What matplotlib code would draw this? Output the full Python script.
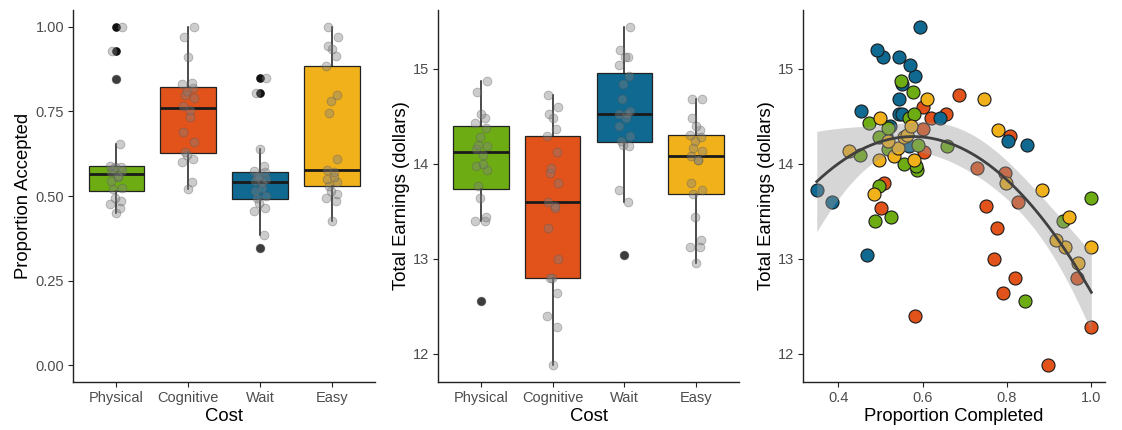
import numpy as np
import matplotlib.pyplot as plt

plt.rcParams['font.family'] = ['Liberation Sans', 'DejaVu Sans']

costs = ['Physical', 'Cognitive', 'Wait', 'Easy']
cost_colors = ['#6DAD13', '#E1531B', '#0F6990', '#F1B11B']

# proportion of offers accepted, one value per participant
accepted_physical = [0.450, 0.465, 0.475, 0.485, 0.495, 0.520, 0.525, 0.545, 0.555, 0.560,
                     0.570, 0.575, 0.580, 0.585, 0.587, 0.590, 0.655, 0.845, 0.930, 1.000]
accepted_cognitive = [0.520, 0.540, 0.600, 0.610, 0.620, 0.630, 0.660, 0.690, 0.735, 0.755,
                      0.765, 0.790, 0.800, 0.810, 0.820, 0.830, 0.835, 0.910, 0.970, 1.000]
accepted_wait = [0.345, 0.385, 0.455, 0.465, 0.480, 0.495, 0.500, 0.515, 0.525, 0.540,
                 0.545, 0.550, 0.555, 0.560, 0.570, 0.575, 0.590, 0.640, 0.805, 0.850]
accepted_easy = [0.425, 0.485, 0.495, 0.505, 0.515, 0.530, 0.540, 0.550, 0.555, 0.570, 0.577,
                 0.610, 0.745, 0.780, 0.800, 0.883, 0.915, 0.935, 0.945, 0.970, 1.000]

# total earnings (dollars) and proportion completed, paired per participant
earn_physical = [12.56, 13.40, 13.40, 13.44, 13.64, 13.77, 13.93, 13.98, 14.00, 14.09,
                 14.15, 14.19, 14.20, 14.28, 14.38, 14.43, 14.48, 14.52, 14.76, 14.87]
done_physical = [0.843, 0.488, 0.932, 0.526, 1.000, 0.497, 0.587, 0.584, 0.556, 0.452,
                 0.519, 0.657, 0.590, 0.497, 0.519, 0.473, 0.568, 0.580, 0.578, 0.548]

earn_cognitive = [11.88, 12.28, 12.40, 12.64, 12.80, 12.80, 13.00, 13.32, 13.53, 13.56, 13.60,
                  13.80, 13.90, 13.96, 14.12, 14.29, 14.37, 14.48, 14.52, 14.60, 14.72]
done_cognitive = [0.897, 1.000, 0.581, 0.791, 0.819, 0.967, 0.770, 0.777, 0.501, 0.750, 0.826,
                  0.509, 0.796, 0.729, 0.603, 0.806, 0.601, 0.620, 0.655, 0.600, 0.686]

earn_wait = [13.04, 13.60, 13.72, 14.19, 14.20, 14.24, 14.29, 14.40, 14.48, 14.52,
             14.52, 14.56, 14.68, 14.84, 14.92, 15.04, 15.12, 15.12, 15.20, 15.44]
done_wait = [0.468, 0.385, 0.349, 0.568, 0.848, 0.803, 0.513, 0.523, 0.642, 0.545,
             0.552, 0.454, 0.544, 0.552, 0.582, 0.570, 0.507, 0.544, 0.491, 0.594]

earn_easy = [12.96, 13.12, 13.12, 13.20, 13.44, 13.68, 13.72, 13.80, 14.04, 14.04, 14.08,
             14.13, 14.17, 14.24, 14.28, 14.30, 14.36, 14.40, 14.48, 14.68, 14.68]
done_easy = [0.969, 0.938, 1.000, 0.916, 0.947, 0.485, 0.882, 0.798, 0.496, 0.580, 0.533,
             0.426, 0.541, 0.517, 0.556, 0.562, 0.778, 0.572, 0.499, 0.610, 0.746]

accepted = [accepted_physical, accepted_cognitive, accepted_wait, accepted_easy]
earnings = [earn_physical, earn_cognitive, earn_wait, earn_easy]
completed = [done_physical, done_cognitive, done_wait, done_easy]

TICK_GRAY = '#4D4D4D'
AXIS_COL = '#222222'


def style_axes(ax):
    for side in ('top', 'right'):
        ax.spines[side].set_visible(False)
    for side in ('left', 'bottom'):
        ax.spines[side].set_color(AXIS_COL)
        ax.spines[side].set_linewidth(1.0)
    ax.tick_params(length=3.5, width=0.8, color=AXIS_COL, labelcolor=TICK_GRAY,
                   labelsize=10.5, pad=3)


def jitter(n, width=0.08):
    # fixed spread so the dots do not stack on the box centre
    return width * np.sin(np.arange(n) * 2.39996)


def box_panel(ax, groups, ylabel):
    pos = np.arange(1, len(groups) + 1)
    bp = ax.boxplot(groups, positions=pos, widths=0.77, patch_artist=True,
                    showcaps=False,
                    boxprops=dict(edgecolor='#222222', linewidth=0.9),
                    medianprops=dict(color='#1a1a1a', linewidth=2.0),
                    whiskerprops=dict(color='#1a1a1a', linewidth=1.1),
                    flierprops=dict(marker='o', markerfacecolor='#111111',
                                    markeredgecolor='#111111', markersize=5.2))
    for patch, col in zip(bp['boxes'], cost_colors):
        patch.set_facecolor(col)
    for p, vals in zip(pos, groups):
        ax.scatter(p + jitter(len(vals)), vals, s=40, color='#808080', alpha=0.4,
                   edgecolors='#555555', linewidths=0.6, zorder=4)
    ax.set_xticks(pos)
    ax.set_xticklabels(costs)
    ax.set_xlim(0.4, 4.6)
    ax.set_xlabel('Cost', fontsize=13.3, labelpad=2)
    ax.set_ylabel(ylabel, fontsize=13.3, labelpad=2)
    style_axes(ax)


fig = plt.figure(figsize=(11.22, 4.30), dpi=100)
ax1 = fig.add_axes([0.0651, 0.1116, 0.2692, 0.8651])
ax2 = fig.add_axes([0.3904, 0.1116, 0.2683, 0.8651])
ax3 = fig.add_axes([0.7157, 0.1116, 0.2692, 0.8651])

# proportion accepted by cost
box_panel(ax1, accepted, 'Proportion Accepted')
ax1.set_ylim(-0.05, 1.05)
ax1.set_yticks([0, 0.25, 0.5, 0.75, 1.0])
ax1.set_yticklabels(['0.00', '0.25', '0.50', '0.75', '1.00'])

# total earnings by cost
box_panel(ax2, earnings, 'Total Earnings (dollars)')
all_earn = np.concatenate(earnings)
e_pad = 0.05 * (all_earn.max() - all_earn.min())
ax2.set_ylim(all_earn.min() - e_pad, all_earn.max() + e_pad)
ax2.set_yticks([12, 13, 14, 15])

# earnings against proportion completed, drawn so orange sits underneath
for k in (1, 2, 0, 3):
    ax3.scatter(completed[k], earnings[k], s=88, color=cost_colors[k],
                edgecolors='#1a1a1a', linewidths=0.8, zorder=2)

# quadratic fit with 95% confidence band
x_all = np.concatenate(completed)
y_all = all_earn
X = np.column_stack([np.ones_like(x_all), x_all, x_all ** 2])
beta, *_ = np.linalg.lstsq(X, y_all, rcond=None)
resid = y_all - X @ beta
dof = len(y_all) - 3
s2 = resid @ resid / dof
cov = np.linalg.inv(X.T @ X) * s2
xs = np.linspace(x_all.min(), x_all.max(), 200)
Xs = np.column_stack([np.ones_like(xs), xs, xs ** 2])
fit = Xs @ beta
se = np.sqrt(np.einsum('ij,jk,ik->i', Xs, cov, Xs))
t_crit = 1.99
ax3.fill_between(xs, fit - t_crit * se, fit + t_crit * se, color='#999999',
                 alpha=0.4, linewidth=0, zorder=3)
ax3.plot(xs, fit, color='#404040', linewidth=2.0, zorder=4)

x_pad = 0.05 * (x_all.max() - x_all.min())
ax3.set_xlim(x_all.min() - x_pad, x_all.max() + x_pad)
ax3.set_ylim(ax2.get_ylim())
ax3.set_xticks([0.4, 0.6, 0.8, 1.0])
ax3.set_xticklabels(['0.4', '0.6', '0.8', '1.0'])
ax3.set_yticks([12, 13, 14, 15])
ax3.set_xlabel('Proportion Completed', fontsize=13.3, labelpad=2)
ax3.set_ylabel('Total Earnings (dollars)', fontsize=13.3, labelpad=2)
style_axes(ax3)

fig.savefig('out.png', dpi=100)
